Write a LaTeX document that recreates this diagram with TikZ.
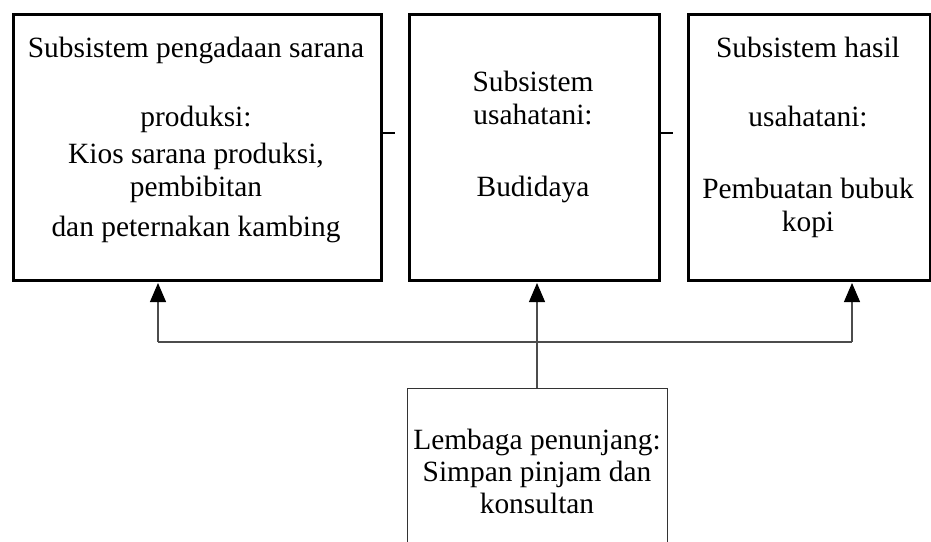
\documentclass[tikz,border=0pt]{standalone}
\usepackage{fontspec}
\setmainfont{Liberation Serif}
\usetikzlibrary{arrows.meta}
\begin{document}
\begin{tikzpicture}[x=1pt,y=-1pt,
  bigbox/.style={draw=black,line width=2.8pt,minimum width=#1,minimum height=266pt,inner sep=0pt,anchor=north west},
  lowbox/.style={draw=black!80,line width=1pt,minimum width=260pt,minimum height=180pt,inner sep=0pt,anchor=north west},
  txt/.style={anchor=base,inner sep=0pt,font=\fontsize{29.4}{34}\selectfont},
  stub/.style={line width=2.8pt},
  conn/.style={line width=1.1pt,draw=black!70},
  arr/.style={conn,-{Triangle[length=19pt,width=16pt,fill=black,color=black]}}]
\clip (0,0) rectangle (931,541);
\node[bigbox=368pt] (b1) at (12,13) {};
\node[bigbox=250pt] (b2) at (408,13) {};
\node[bigbox=242pt] (b3) at (687,13) {};
\node[lowbox] (b4) at (407,388) {};
% texts box 1
\node[txt] (t11) at (196,57) {Subsistem pengadaan sarana};
\node[txt] (t12) at (196,126) {produksi:};
\node[txt] (t13) at (196,163) {Kios sarana produksi,};
\node[txt] (t14) at (196,196) {pembibitan};
\node[txt] (t15) at (196,236) {dan peternakan kambing};
% box 2
\node[txt] (t21) at (533,91) {Subsistem};
\node[txt] (t22) at (533,124) {usahatani:};
\node[txt] (t23) at (533,196) {Budidaya};
% box 3
\node[txt] (t31) at (808,57) {Subsistem hasil};
\node[txt] (t32) at (808,126) {usahatani:};
\node[txt] (t33) at (808,198) {Pembuatan bubuk};
\node[txt] (t34) at (808,231) {kopi};
% box 4
\node[txt] (t41) at (537,449) {Lembaga penunjang:};
\node[txt] (t42) at (537,481) {Simpan pinjam dan};
\node[txt] (t43) at (537,513) {konsultan};
% stubs
\coordinate (s1) at (395,133);
\coordinate (s2) at (673,133);
\draw[stub] (b1.east |- s1) -- (s1);
\draw[stub] (b2.east |- s2) -- (s2);
% connectors
\coordinate (hl) at (158,342);
\coordinate (hr) at (852,342);
\coordinate (a1) at (158,283);
\coordinate (a2) at (537,283);
\coordinate (a3) at (852,283);
\draw[conn] (hl) -- (hr);
\draw[arr] (hl) -- (a1);
\draw[arr] (hr) -- (a3);
\draw[arr] (b4.north -| a2) -- (a2);
\end{tikzpicture}
\end{document}
